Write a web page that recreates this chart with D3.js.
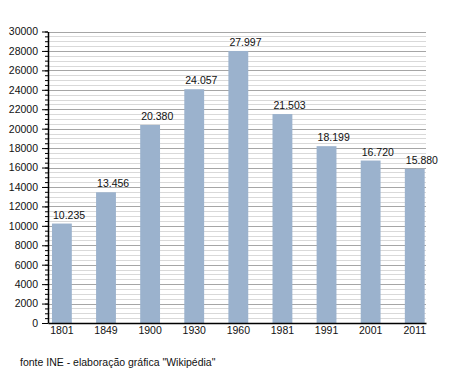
<!DOCTYPE html>
<html>
<head>
<meta charset="utf-8">
<script src="https://cdn.jsdelivr.net/npm/d3@7"></script>
<style>
body { margin: 0; background: #fff; }
text { font-family: "Liberation Sans", Arial, sans-serif; fill: #111; }
</style>
</head>
<body>
<script>
var years = ["1801", "1849", "1900", "1930", "1960", "1981", "1991", "2001", "2011"];
var population = [10235, 13456, 20380, 24057, 27997, 21503, 18199, 16720, 15880];
var popLabels = ["10.235", "13.456", "20.380", "24.057", "27.997", "21.503", "18.199", "16.720", "15.880"];
var yMax = 30000;
var source = "fonte INE - elaboração gráfica \"Wikipédia\"";

var width = 455, height = 373;
// note: "top" is taken by window.top, so use plot* names
var plotLeft = 48, plotRight = 426, plotTop = 31.5, plotBottom = 323;

var svg = d3.select("body")
    .append("svg")
    .attr("width", width)
    .attr("height", height);

var x = d3.scaleBand()
    .domain(years)
    .range([plotLeft, plotRight])
    .paddingInner(0.55)
    .paddingOuter(0.06)
    .align(0.75);

var y = d3.scaleLinear()
    .domain([0, yMax])
    .range([plotBottom, plotTop]);

// minor grid every 500, major every 2000
var minor = d3.range(500, yMax + 1, 500).filter(function(v) { return v % 2000 != 0; });
var major = d3.range(2000, yMax + 1, 2000);

svg.append("g")
    .selectAll("line")
    .data(minor)
    .enter()
    .append("line")
    .attr("x1", plotLeft)
    .attr("x2", plotRight)
    .attr("y1", function(d) { return Math.round(y(d)) + 0.5; })
    .attr("y2", function(d) { return Math.round(y(d)) + 0.5; })
    .attr("stroke", "#d9d9d9");

svg.append("g")
    .selectAll("line")
    .data(major)
    .enter()
    .append("line")
    .attr("x1", plotLeft)
    .attr("x2", plotRight)
    .attr("y1", function(d) { return Math.round(y(d)) + 0.5; })
    .attr("y2", function(d) { return Math.round(y(d)) + 0.5; })
    .attr("stroke", "#a6a6a6");

svg.append("g")
    .selectAll("rect")
    .data(population)
    .enter()
    .append("rect")
    .attr("x", function(d, i) { return x(years[i]); })
    .attr("y", function(d) { return y(d); })
    .attr("width", x.bandwidth())
    .attr("height", function(d) { return y(0) - y(d); })
    .attr("fill", "#9bb2cd");

svg.append("g")
    .selectAll("text")
    .data(population)
    .enter()
    .append("text")
    .attr("x", function(d, i) { return x(years[i]) + 1; })
    .attr("y", function(d) { return y(d) - 5; })
    .attr("font-size", "10.5px")
    .text(function(d, i) { return popLabels[i]; });

// y axis with small ticks every 500
var yMinor = d3.axisLeft(y)
    .tickValues(d3.range(0, yMax + 1, 500))
    .tickSize(3)
    .tickFormat("");

var yAxis = d3.axisLeft(y)
    .tickValues(d3.range(0, yMax + 1, 2000))
    .tickSize(6)
    .tickPadding(4)
    .tickSizeOuter(0)
    .tickFormat(d3.format("d"));

svg.append("g")
    .attr("transform", "translate(" + plotLeft + ",0)")
    .call(yMinor)
    .call(function(g) { g.select(".domain").remove(); })
    .selectAll("line").attr("stroke", "#000");

svg.append("g")
    .attr("transform", "translate(" + plotLeft + ",0)")
    .call(yAxis)
    .call(function(g) {
        g.select(".domain").attr("stroke", "#000").attr("stroke-width", 1.5);
        g.selectAll("line").attr("stroke", "#000");
        g.selectAll("text").attr("font-size", "10.5px").attr("fill", "#111")
            .attr("font-family", "Liberation Sans, Arial, sans-serif");
    });

var xAxis = d3.axisBottom(x)
    .tickSize(0)
    .tickSizeOuter(0)
    .tickPadding(4);

svg.append("g")
    .attr("transform", "translate(0," + plotBottom + ")")
    .call(xAxis)
    .call(function(g) {
        g.select(".domain").attr("stroke", "#000").attr("stroke-width", 1.5);
        g.selectAll("text").attr("font-size", "10.5px").attr("fill", "#111")
            .attr("font-family", "Liberation Sans, Arial, sans-serif");
    });

svg.append("text")
    .attr("x", 20)
    .attr("y", 366)
    .attr("font-size", "10.5px")
    .text(source);
</script>
</body>
</html>
